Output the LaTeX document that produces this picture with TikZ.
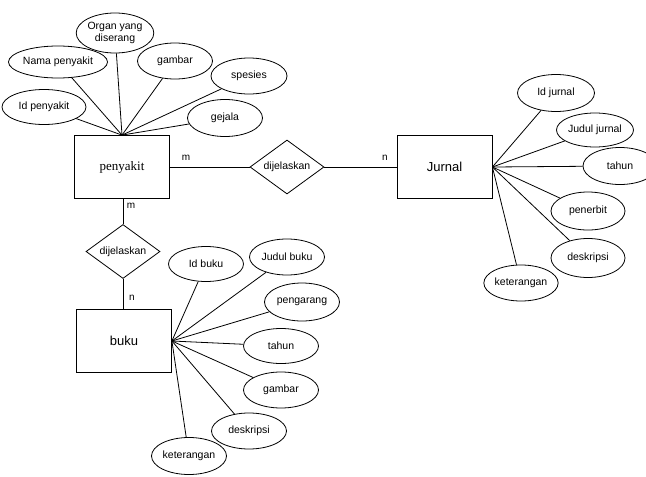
\documentclass[tikz,border=0pt]{standalone}
\usepackage{fontspec}
\setmainfont{Liberation Sans}
\newfontfamily\timesfont{Liberation Serif}
\usetikzlibrary{shapes.geometric}
\begin{document}
\begin{tikzpicture}[x=1pt,y=-1pt,line width=0.8pt,
    entity/.style={draw, minimum width=95pt, minimum height=63pt, inner sep=0pt, font=\fontsize{13}{15}\selectfont},
    attr/.style={draw, ellipse, minimum width=75pt, minimum height=36pt, inner sep=0pt, align=center, font=\fontsize{10.5}{12}\selectfont},
    rel/.style={draw, diamond, shape aspect=1.37, minimum width=74pt, minimum height=54pt, inner sep=0pt, font=\fontsize{10.5}{12}\selectfont},
    card/.style={font=\fontsize{10}{12}\selectfont}]
    \useasboundingbox (0,0) rectangle (646,477);
    % Entities and relations
    \node [entity, font=\timesfont\fontsize{13}{15}\selectfont] (penyakit) at (122,167) {penyakit};
    \node [entity] (jurnal) at (444.5,167) {Jurnal};
    \node [entity] (buku) at (124,341) {buku};
    \node [rel] (relJurnal) at (287,167) {dijelaskan};
    \node [rel] (relBuku) at (123,251.5) {dijelaskan};
    \draw (penyakit) -- (relJurnal) -- (jurnal);
    \draw (relBuku.north) -- (relBuku.north |- penyakit.south);
    \draw (relBuku.south) -- (relBuku.south |- buku.north);
    \node [card] (cardPenyakitJ) at (186,158) {m};
    \node [card] (cardJurnal) at (385,158) {n};
    \node [card] (cardPenyakitB) at (131,206) {m};
    \node [card] (cardBuku) at (132,298) {n};
    % Attributes of penyakit
    \node [attr, minimum width=84pt, minimum height=35pt] (idPenyakit) at (44,107) {Id penyakit};
    \node [attr, minimum width=79pt, minimum height=32pt] (namaPenyakit) at (58,62) {Nama penyakit};
    \node [attr, minimum height=40pt] (organ) at (115,33) {Organ yang\\diserang};
    \node [attr] (gambarPenyakit) at (175,61) {gambar};
    \node [attr, minimum width=76pt] (spesies) at (249,76) {spesies};
    \node [attr, minimum height=37pt] (gejala) at (225,118) {gejala};
    \foreach \a in {idPenyakit,namaPenyakit,organ,gambarPenyakit,spesies,gejala}
        \draw (\a) -- (penyakit.north);
    % Attributes of Jurnal
    \node [attr, minimum width=77pt, minimum height=37pt] (idJurnal) at (556,93) {Id jurnal};
    \node [attr, minimum width=77pt, minimum height=34pt] (judulJurnal) at (595,130) {Judul jurnal};
    \node [attr, minimum width=74pt, minimum height=37pt] (tahunJurnal) at (620,166) {tahun};
    \node [attr, minimum width=74pt, minimum height=38pt] (penerbit) at (588,211) {penerbit};
    \node [attr, minimum width=74pt, minimum height=39pt] (deskripsiJurnal) at (588,258) {deskripsi};
    \node [attr, minimum width=71pt] (keteranganJurnal) at (521,283) {keterangan};
    \foreach \a in {idJurnal,judulJurnal,tahunJurnal,penerbit,deskripsiJurnal,keteranganJurnal}
        \draw (\a) -- (jurnal.east);
    % Attributes of buku
    \node [attr, minimum height=35pt] (idBuku) at (206,264) {Id buku};
    \node [attr] (judulBuku) at (287,257) {Judul buku};
    \node [attr, minimum height=38pt] (pengarang) at (302,302) {pengarang};
    \node [attr, minimum height=35pt] (tahunBuku) at (281,346) {tahun};
    \node [attr] (gambarBuku) at (281,390) {gambar};
    \node [attr] (deskripsiBuku) at (249,431) {deskripsi};
    \node [attr, minimum height=37pt] (keteranganBuku) at (189,456) {keterangan};
    \foreach \a in {idBuku,judulBuku,pengarang,tahunBuku,gambarBuku,deskripsiBuku,keteranganBuku}
        \draw (\a) -- (buku.east);
\end{tikzpicture}
\end{document}
